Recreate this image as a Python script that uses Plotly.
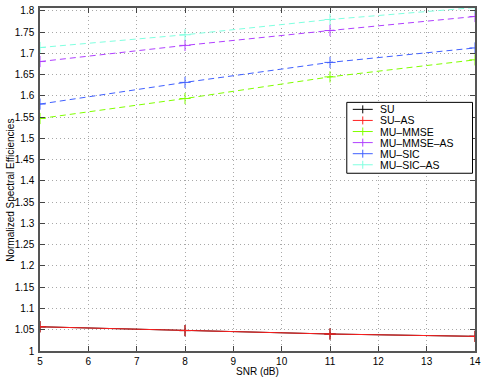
import plotly.graph_objects as go

snr = [5, 8, 11, 14]
su = [1.057, 1.048, 1.040, 1.0345]
su_as = [1.057, 1.048, 1.040, 1.0345]
mu_mmse = [1.547, 1.594, 1.645, 1.685]
mu_mmse_as = [1.681, 1.719, 1.754, 1.787]
mu_sic = [1.581, 1.632, 1.679, 1.713]
mu_sic_as = [1.714, 1.744, 1.780, 1.808]

names = ["SU", "SU\u2013AS", "MU\u2013MMSE", "MU\u2013MMSE\u2013AS", "MU\u2013SIC", "MU\u2013SIC\u2013AS"]
values = [su, su_as, mu_mmse, mu_mmse_as, mu_sic, mu_sic_as]
colors = ["#000000", "#ff2020", "#80ff00", "#b040ff", "#4060ff", "#80ffe0"]
dashes = ["solid", "solid", "6px,4px", "6px,4px", "6px,4px", "6px,4px"]

fig = go.Figure()
for name, vals, color, dash in zip(names, values, colors, dashes):
    fig.add_trace(go.Scatter(
        x=snr, y=vals, name=name, mode="lines+markers", showlegend=False,
        line=dict(color=color, width=1, dash=dash),
        marker=dict(symbol="cross-thin", size=8, line=dict(color=color, width=1)),
    ))

# plot area in pixels (for the hand-made legend box and titles)
X0, X1, Y0, Y1 = 39.5, 475.5, 351.0, 7.5
def px(x): return (x - X0) / (X1 - X0)
def py(y): return (Y0 - y) / (Y0 - Y1)

shapes = [dict(type="rect", xref="paper", yref="paper",
               x0=px(347), x1=px(473), y0=py(173), y1=py(102),
               line=dict(color="black", width=1), fillcolor="white", layer="above")]
annotations = []
for i, (name, color) in enumerate(zip(names, colors)):
    yy = 109 + i * 11.1
    shapes.append(dict(type="line", xref="paper", yref="paper", layer="above",
                       x0=px(353), x1=px(373), y0=py(yy), y1=py(yy),
                       line=dict(color=color, width=1)))
    shapes.append(dict(type="line", xref="paper", yref="paper", layer="above",
                       x0=px(363), x1=px(363), y0=py(yy - 4), y1=py(yy + 4),
                       line=dict(color=color, width=1)))
    annotations.append(dict(xref="paper", yref="paper", x=px(378), y=py(yy),
                            xanchor="left", yanchor="middle", text=name,
                            showarrow=False, font=dict(size=10.5, color="black")))

# axis titles
annotations.append(dict(xref="paper", yref="paper", x=px(257), y=py(372),
                        xanchor="center", yanchor="middle", text="SNR (dB)",
                        showarrow=False, font=dict(size=10)))
annotations.append(dict(xref="paper", yref="paper", x=px(10), y=py(190),
                        xanchor="center", yanchor="middle", textangle=-90,
                        text="Normalized Spectral Efficiencies",
                        showarrow=False, font=dict(size=10)))

axis_common = dict(
    showline=True, linecolor="#555555", linewidth=1.5, mirror="allticks",
    ticks="inside", ticklen=5, tickcolor="#444444",
    showgrid=True, gridcolor="#a8a8a8", griddash="1px,3px", gridwidth=1,
    zeroline=False, tickfont=dict(size=10, color="black"), automargin=False,
)

fig.update_layout(
    width=485, height=379,
    margin=dict(l=39.5, r=9.5, t=7.5, b=28),
    paper_bgcolor="white", plot_bgcolor="white",
    font=dict(family="Liberation Sans, Arial, sans-serif", color="black"),
    xaxis=dict(range=[5, 14], dtick=1, ticklabelstandoff=0, **axis_common),
    yaxis=dict(range=[1, 1.807], tick0=1, dtick=0.05, ticklabelstandoff=2, **axis_common),
    shapes=shapes, annotations=annotations,
)

fig.write_html("out.html", config={"displayModeBar": False},
               post_script="document.body.style.margin='0px';")
